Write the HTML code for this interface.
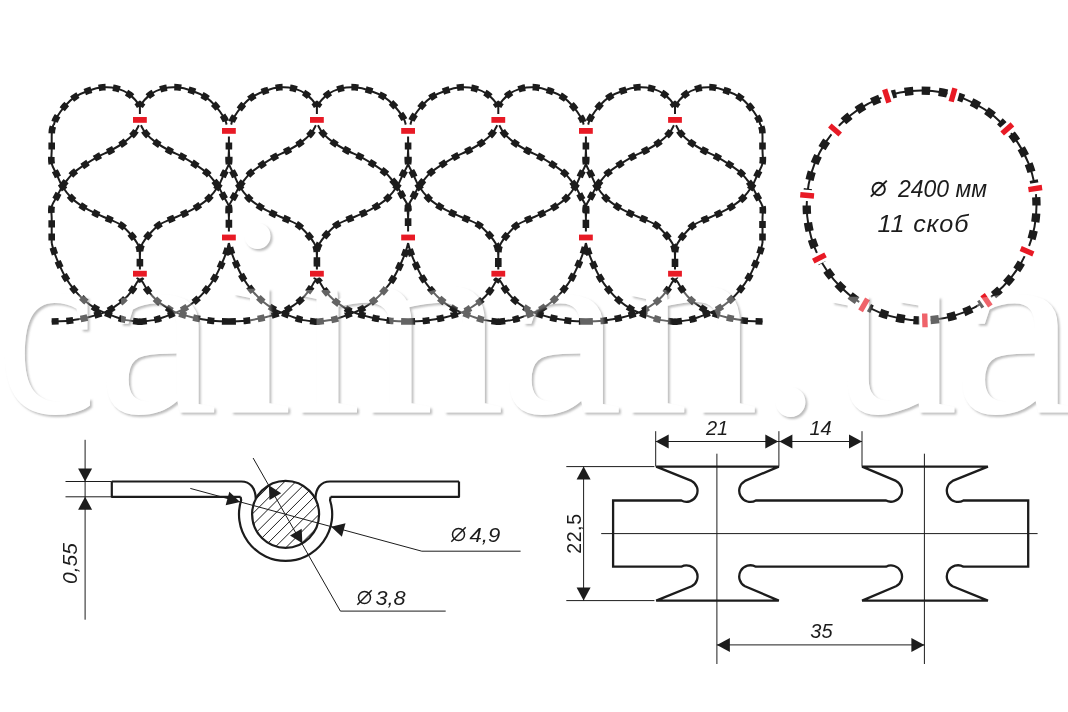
<!DOCTYPE html><html><head><meta charset="utf-8"><style>html,body{margin:0;padding:0;background:#fff;}svg{display:block;will-change:transform;}text{font-family:"Liberation Sans",sans-serif;}</style></head><body>
<svg width="1068" height="712" viewBox="0 0 1068 712">
<rect width="1068" height="712" fill="#fff"/>
<g fill="none" stroke="#1c1c1c" stroke-linejoin="round">
<path d="M139.8,106.5C138.1,103.27 133.61,97.62 129.69,94.6C125.78,91.58 120.77,89.62 116.31,88.4C111.85,87.18 107.58,86.92 102.94,87.3C98.29,87.68 93.11,89.1 88.47,90.7C83.83,92.3 78.99,94.38 75.09,96.9C71.19,99.42 68.23,102.25 65.08,105.8C61.92,109.35 58.01,115.07 56.16,118.2C54.31,121.33 54.34,123.53 53.98,124.6M140,106.5C141.72,103.27 146.25,97.62 150.2,94.6C154.15,91.58 159.2,89.62 163.7,88.4C168.2,87.18 172.52,86.92 177.2,87.3C181.88,87.68 187.12,89.1 191.8,90.7C196.48,92.3 201.37,94.38 205.3,96.9C209.23,99.42 212.22,102.25 215.4,105.8C218.58,109.35 222.53,115.07 224.4,118.2C226.27,121.33 226.23,123.53 226.6,124.6M316.8,106.5C315.1,103.27 310.62,97.62 306.72,94.6C302.81,91.58 297.82,89.62 293.37,88.4C288.92,87.18 284.65,86.92 280.02,87.3C275.39,87.68 270.21,89.1 265.58,90.7C260.95,92.3 256.12,94.38 252.23,96.9C248.35,99.42 245.4,102.25 242.25,105.8C239.1,109.35 235.2,115.07 233.35,118.2C231.5,121.33 231.54,123.53 231.17,124.6M317,106.5C318.76,103.27 323.41,97.62 327.45,94.6C331.5,91.58 336.68,89.62 341.29,88.4C345.9,87.18 350.32,86.92 355.12,87.3C359.92,87.68 365.28,89.1 370.08,90.7C374.88,92.3 379.89,94.38 383.92,96.9C387.95,99.42 391,102.25 394.27,105.8C397.53,109.35 401.58,115.07 403.49,118.2C405.4,121.33 405.37,123.53 405.74,124.6M498.2,106.5C496.46,103.27 491.86,97.62 487.86,94.6C483.86,91.58 478.74,89.62 474.18,88.4C469.62,87.18 465.24,86.92 460.5,87.3C455.75,87.68 450.45,89.1 445.7,90.7C440.95,92.3 436,94.38 432.02,96.9C428.03,99.42 425.01,102.25 421.78,105.8C418.56,109.35 414.55,115.07 412.66,118.2C410.77,121.33 410.8,123.53 410.43,124.6M498.4,106.5C500.09,103.27 504.55,97.62 508.44,94.6C512.33,91.58 517.3,89.62 521.73,88.4C526.15,87.18 530.4,86.92 535.01,87.3C539.62,87.68 544.77,89.1 549.38,90.7C553.99,92.3 558.8,94.38 562.67,96.9C566.54,99.42 569.48,102.25 572.61,105.8C575.75,109.35 579.63,115.07 581.47,118.2C583.31,121.33 583.28,123.53 583.64,124.6M674.9,106.5C673.18,103.27 668.64,97.62 664.69,94.6C660.73,91.58 655.68,89.62 651.17,88.4C646.67,87.18 642.35,86.92 637.66,87.3C632.97,87.68 627.73,89.1 623.04,90.7C618.35,92.3 613.46,94.38 609.53,96.9C605.59,99.42 602.6,102.25 599.42,105.8C596.23,109.35 592.27,115.07 590.41,118.2C588.54,121.33 588.57,123.53 588.2,124.6M675.1,106.5C676.79,103.27 681.24,97.62 685.13,94.6C689.01,91.58 693.97,89.62 698.4,88.4C702.82,87.18 707.07,86.92 711.67,87.3C716.28,87.68 721.42,89.1 726.03,90.7C730.63,92.3 735.43,94.38 739.3,96.9C743.16,99.42 746.1,102.25 749.23,105.8C752.36,109.35 756.24,115.07 758.08,118.2C759.91,121.33 759.88,123.53 760.24,124.6M138.91,125.2C138.1,126.57 136.63,130.45 134.05,133.4C131.48,136.35 127.31,140.05 123.45,142.9C119.58,145.75 115.16,148.18 110.86,150.5C106.57,152.82 101.96,154.48 97.68,156.8C93.41,159.12 89.16,161.77 85.2,164.4C81.23,167.03 76.9,170 73.9,172.6C70.89,175.2 69.09,177.72 67.16,180C65.23,182.28 64.01,183.57 62.3,186.3C60.6,189.03 58.72,193.03 56.95,196.4C55.19,199.77 52.58,202.82 51.7,206.5C50.82,210.18 51.7,214.33 51.7,218.5C51.7,222.67 51.7,229.33 51.7,231.5M140.9,125.2C141.72,126.57 143.2,130.45 145.8,133.4C148.4,136.35 152.6,140.05 156.5,142.9C160.4,145.75 164.87,148.18 169.2,150.5C173.53,152.82 178.18,154.48 182.5,156.8C186.82,159.12 191.1,161.77 195.1,164.4C199.1,167.03 203.47,170 206.5,172.6C209.53,175.2 211.35,177.72 213.3,180C215.25,182.28 216.48,183.57 218.2,186.3C219.92,189.03 221.82,193.03 223.6,196.4C225.38,199.77 228.02,202.82 228.9,206.5C229.78,210.18 228.9,214.33 228.9,218.5C228.9,222.67 228.9,229.33 228.9,231.5M315.91,125.2C315.1,126.57 313.64,130.45 311.07,133.4C308.5,136.35 304.34,140.05 300.49,142.9C296.63,145.75 292.21,148.18 287.93,150.5C283.64,152.82 279.05,154.48 274.78,156.8C270.51,159.12 266.28,161.77 262.32,164.4C258.37,167.03 254.05,170 251.05,172.6C248.05,175.2 246.25,177.72 244.32,180C242.4,182.28 241.18,183.57 239.48,186.3C237.78,189.03 235.9,193.03 234.14,196.4C232.38,199.77 229.77,202.82 228.9,206.5C228.03,210.18 228.9,214.33 228.9,218.5C228.9,222.67 228.9,229.33 228.9,231.5M317.92,125.2C318.76,126.57 320.28,130.45 322.95,133.4C325.61,136.35 329.91,140.05 333.91,142.9C337.91,145.75 342.48,148.18 346.92,150.5C351.36,152.82 356.13,154.48 360.55,156.8C364.98,159.12 369.37,161.77 373.46,164.4C377.56,167.03 382.04,170 385.15,172.6C388.25,175.2 390.12,177.72 392.11,180C394.11,182.28 395.38,183.57 397.14,186.3C398.89,189.03 400.84,193.03 402.67,196.4C404.5,199.77 407.19,202.82 408.1,206.5C409.01,210.18 408.1,214.33 408.1,218.5C408.1,222.67 408.1,229.33 408.1,231.5M497.29,125.2C496.46,126.57 494.96,130.45 492.32,133.4C489.69,136.35 485.43,140.05 481.48,142.9C477.52,145.75 473,148.18 468.6,150.5C464.21,152.82 459.5,154.48 455.13,156.8C450.75,159.12 446.41,161.77 442.36,164.4C438.3,167.03 433.88,170 430.8,172.6C427.73,175.2 425.89,177.72 423.91,180C421.93,182.28 420.68,183.57 418.94,186.3C417.2,189.03 415.28,193.03 413.47,196.4C411.66,199.77 409,202.82 408.1,206.5C407.2,210.18 408.1,214.33 408.1,218.5C408.1,222.67 408.1,229.33 408.1,231.5M499.28,125.2C500.09,126.57 501.55,130.45 504.11,133.4C506.67,136.35 510.8,140.05 514.64,142.9C518.48,145.75 522.87,148.18 527.14,150.5C531.4,152.82 535.98,154.48 540.23,156.8C544.48,159.12 548.69,161.77 552.63,164.4C556.57,167.03 560.87,170 563.85,172.6C566.84,175.2 568.63,177.72 570.55,180C572.46,182.28 573.68,183.57 575.37,186.3C577.06,189.03 578.93,193.03 580.68,196.4C582.44,199.77 585.03,202.82 585.9,206.5C586.77,210.18 585.9,214.33 585.9,218.5C585.9,222.67 585.9,229.33 585.9,231.5M674,125.2C673.18,126.57 671.7,130.45 669.09,133.4C666.49,136.35 662.29,140.05 658.38,142.9C654.48,145.75 650.01,148.18 645.67,150.5C641.33,152.82 636.67,154.48 632.35,156.8C628.03,159.12 623.74,161.77 619.74,164.4C615.73,167.03 611.36,170 608.33,172.6C605.29,175.2 603.47,177.72 601.52,180C599.57,182.28 598.33,183.57 596.61,186.3C594.89,189.03 592.99,193.03 591.21,196.4C589.42,199.77 586.78,202.82 585.9,206.5C585.02,210.18 585.9,214.33 585.9,218.5C585.9,222.67 585.9,229.33 585.9,231.5M675.98,125.2C676.79,126.57 678.24,130.45 680.8,133.4C683.36,136.35 687.49,140.05 691.32,142.9C695.15,145.75 699.55,148.18 703.81,150.5C708.07,152.82 712.64,154.48 716.88,156.8C721.13,159.12 725.34,161.77 729.27,164.4C733.2,167.03 737.5,170 740.48,172.6C743.46,175.2 745.25,177.72 747.16,180C749.08,182.28 750.29,183.57 751.98,186.3C753.67,189.03 755.54,193.03 757.29,196.4C759.04,199.77 761.63,202.82 762.5,206.5C763.37,210.18 762.5,214.33 762.5,218.5C762.5,222.67 762.5,229.33 762.5,231.5M51.7,136.5C51.7,138.75 51.7,145.5 51.7,150C51.7,154.5 50.82,159.35 51.7,163.5C52.58,167.65 55.19,171.1 56.95,174.9C58.72,178.7 59.84,182.4 62.3,186.3C64.76,190.2 68.28,194.9 71.72,198.3C75.15,201.7 78.85,204.13 82.92,206.7C86.98,209.27 91.69,211.6 96.1,213.7C100.51,215.8 105.08,217.32 109.38,219.3C113.67,221.28 118.16,222.9 121.86,225.6C125.56,228.3 129.02,232.57 131.58,235.5C134.14,238.43 135.9,240.87 137.22,243.2C138.55,245.53 139.06,246.7 139.5,249.5C139.95,252.3 139.83,256.67 139.9,260C139.97,263.33 139.9,267.92 139.9,269.5M228.9,136.5C228.9,138.75 228.9,145.5 228.9,150C228.9,154.5 229.78,159.35 228.9,163.5C228.02,167.65 225.38,171.1 223.6,174.9C221.82,178.7 220.68,182.4 218.2,186.3C215.72,190.2 212.17,194.9 208.7,198.3C205.23,201.7 201.5,204.13 197.4,206.7C193.3,209.27 188.55,211.6 184.1,213.7C179.65,215.8 175.03,217.32 170.7,219.3C166.37,221.28 161.83,222.9 158.1,225.6C154.37,228.3 150.88,232.57 148.3,235.5C145.72,238.43 143.93,240.87 142.6,243.2C141.27,245.53 140.75,246.7 140.3,249.5C139.85,252.3 139.97,256.67 139.9,260C139.83,263.33 139.9,267.92 139.9,269.5M228.9,136.5C228.9,138.75 228.9,145.5 228.9,150C228.9,154.5 228.03,159.35 228.9,163.5C229.77,167.65 232.38,171.1 234.14,174.9C235.9,178.7 237.02,182.4 239.48,186.3C241.94,190.2 245.45,194.9 248.87,198.3C252.3,201.7 255.99,204.13 260.05,206.7C264.1,209.27 268.8,211.6 273.2,213.7C277.6,215.8 282.16,217.32 286.45,219.3C290.73,221.28 295.21,222.9 298.9,225.6C302.6,228.3 306.04,232.57 308.59,235.5C311.15,238.43 312.91,240.87 314.23,243.2C315.55,245.53 316.06,246.7 316.5,249.5C316.95,252.3 316.83,256.67 316.9,260C316.97,263.33 316.9,267.92 316.9,269.5M408.1,136.5C408.1,138.75 408.1,145.5 408.1,150C408.1,154.5 409.01,159.35 408.1,163.5C407.19,167.65 404.5,171.1 402.67,174.9C400.84,178.7 399.68,182.4 397.14,186.3C394.59,190.2 390.95,194.9 387.4,198.3C383.85,201.7 380.02,204.13 375.82,206.7C371.62,209.27 366.75,211.6 362.19,213.7C357.63,215.8 352.9,217.32 348.46,219.3C344.02,221.28 339.38,222.9 335.55,225.6C331.72,228.3 328.15,232.57 325.51,235.5C322.86,238.43 321.03,240.87 319.67,243.2C318.3,245.53 317.77,246.7 317.31,249.5C316.85,252.3 316.97,256.67 316.9,260C316.83,263.33 316.9,267.92 316.9,269.5M408.1,136.5C408.1,138.75 408.1,145.5 408.1,150C408.1,154.5 407.2,159.35 408.1,163.5C409,167.65 411.66,171.1 413.47,174.9C415.28,178.7 416.43,182.4 418.94,186.3C421.46,190.2 425.06,194.9 428.57,198.3C432.09,201.7 435.87,204.13 440.02,206.7C444.18,209.27 448.99,211.6 453.5,213.7C458.01,215.8 462.69,217.32 467.08,219.3C471.48,221.28 476.07,222.9 479.85,225.6C483.64,228.3 487.17,232.57 489.79,235.5C492.4,238.43 494.21,240.87 495.56,243.2C496.91,245.53 497.44,246.7 497.89,249.5C498.35,252.3 498.23,256.67 498.3,260C498.37,263.33 498.3,267.92 498.3,269.5M585.9,136.5C585.9,138.75 585.9,145.5 585.9,150C585.9,154.5 586.77,159.35 585.9,163.5C585.03,167.65 582.44,171.1 580.68,174.9C578.93,178.7 577.81,182.4 575.37,186.3C572.92,190.2 569.43,194.9 566.02,198.3C562.61,201.7 558.93,204.13 554.9,206.7C550.86,209.27 546.18,211.6 541.8,213.7C537.42,215.8 532.88,217.32 528.62,219.3C524.35,221.28 519.89,222.9 516.21,225.6C512.54,228.3 509.11,232.57 506.57,235.5C504.03,238.43 502.27,240.87 500.96,243.2C499.65,245.53 499.14,246.7 498.69,249.5C498.25,252.3 498.37,256.67 498.3,260C498.23,263.33 498.3,267.92 498.3,269.5M585.9,136.5C585.9,138.75 585.9,145.5 585.9,150C585.9,154.5 585.02,159.35 585.9,163.5C586.78,167.65 589.42,171.1 591.21,174.9C592.99,178.7 594.13,182.4 596.61,186.3C599.1,190.2 602.65,194.9 606.12,198.3C609.59,201.7 613.33,204.13 617.44,206.7C621.54,209.27 626.3,211.6 630.75,213.7C635.21,215.8 639.83,217.32 644.17,219.3C648.5,221.28 653.04,222.9 656.78,225.6C660.52,228.3 664,232.57 666.59,235.5C669.18,238.43 670.96,240.87 672.3,243.2C673.63,245.53 674.15,246.7 674.6,249.5C675.05,252.3 674.93,256.67 675,260C675.07,263.33 675,267.92 675,269.5M762.5,136.5C762.5,138.75 762.5,145.5 762.5,150C762.5,154.5 763.37,159.35 762.5,163.5C761.63,167.65 759.04,171.1 757.29,174.9C755.54,178.7 754.42,182.4 751.98,186.3C749.54,190.2 746.05,194.9 742.64,198.3C739.23,201.7 735.56,204.13 731.53,206.7C727.5,209.27 722.83,211.6 718.46,213.7C714.08,215.8 709.54,217.32 705.28,219.3C701.02,221.28 696.56,222.9 692.89,225.6C689.22,228.3 685.8,232.57 683.26,235.5C680.72,238.43 678.97,240.87 677.65,243.2C676.34,245.53 675.84,246.7 675.39,249.5C674.95,252.3 675.07,256.67 675,260C674.93,263.33 675,267.92 675,269.5M228.9,321.5C223.03,321.5 216.5,321.22 211.2,320.7C205.9,320.18 201.17,319.2 197.1,318.4C193.03,317.6 190.55,316.98 186.8,315.9C183.05,314.82 177.72,313.15 174.6,311.9C171.48,310.65 171.05,310.28 168.1,308.4C165.15,306.52 160.33,303.65 156.9,300.6C153.47,297.55 149.88,293.2 147.5,290.1C145.12,287 143.87,283.85 142.6,282C141.33,280.15 140.35,279.5 139.9,279M228.9,321.5C234.77,321.5 241.16,321.22 246.4,320.7C251.64,320.18 256.32,319.2 260.34,318.4C264.36,317.6 266.82,316.98 270.53,315.9C274.23,314.82 279.51,313.15 282.59,311.9C285.67,310.65 286.1,310.28 289.02,308.4C291.93,306.52 296.7,303.65 300.09,300.6C303.49,297.55 307.03,293.2 309.39,290.1C311.74,287 312.98,283.85 314.23,282C315.48,280.15 316.46,279.5 316.9,279M408.1,321.5C402.09,321.5 395.39,321.22 389.96,320.7C384.53,320.18 379.68,319.2 375.51,318.4C371.35,317.6 368.8,316.98 364.96,315.9C361.12,314.82 355.65,313.15 352.46,311.9C349.26,310.65 348.82,310.28 345.8,308.4C342.77,306.52 337.84,303.65 334.32,300.6C330.8,297.55 327.13,293.2 324.69,290.1C322.25,287 320.96,283.85 319.67,282C318.37,280.15 317.36,279.5 316.9,279M408.1,321.5C414.11,321.5 420.67,321.22 426.04,320.7C431.41,320.18 436.21,319.2 440.33,318.4C444.45,317.6 446.97,316.98 450.77,315.9C454.57,314.82 459.97,313.15 463.13,311.9C466.29,310.65 466.73,310.28 469.72,308.4C472.71,306.52 477.59,303.65 481.07,300.6C484.55,297.55 488.18,293.2 490.6,290.1C493.01,287 494.28,283.85 495.56,282C496.85,280.15 497.84,279.5 498.3,279M585.9,321.5C580.04,321.5 573.7,321.22 568.48,320.7C563.26,320.18 558.6,319.2 554.6,318.4C550.6,317.6 548.15,316.98 544.46,315.9C540.77,314.82 535.52,313.15 532.45,311.9C529.39,310.65 528.96,310.28 526.06,308.4C523.15,306.52 518.41,303.65 515.03,300.6C511.65,297.55 508.13,293.2 505.78,290.1C503.43,287 502.2,283.85 500.96,282C499.71,280.15 498.74,279.5 498.3,279M585.9,321.5C591.76,321.5 598.31,321.22 603.62,320.7C608.93,320.18 613.66,319.2 617.74,318.4C621.81,317.6 624.29,316.98 628.05,315.9C631.8,314.82 637.14,313.15 640.26,311.9C643.38,310.65 643.82,310.28 646.77,308.4C649.72,306.52 654.54,303.65 657.98,300.6C661.42,297.55 665.01,293.2 667.39,290.1C669.78,287 671.03,283.85 672.3,282C673.57,280.15 674.55,279.5 675,279M139.9,321.6C138.94,321.6 139.67,321.83 137.03,321.5C134.38,321.17 128.22,320.58 124.04,319.6C119.87,318.62 115.04,316.7 111.95,315.6C108.86,314.5 108.14,314.13 105.51,313C102.89,311.87 99.6,310.82 96.2,308.8C92.79,306.78 88.65,303.93 85.1,300.9C81.55,297.87 78.14,294.5 74.89,290.6C71.64,286.7 68.42,282.35 65.57,277.5C62.73,272.65 59.84,266.05 57.84,261.5C55.85,256.95 54.61,253.28 53.58,250.2C52.56,247.12 52.01,244.2 51.7,243M139.9,321.6C140.86,321.6 140.13,321.83 142.8,321.5C145.47,321.17 151.68,320.58 155.9,319.6C160.12,318.62 164.98,316.7 168.1,315.6C171.22,314.5 171.95,314.13 174.6,313C177.25,311.87 180.57,310.82 184,308.8C187.43,306.78 191.62,303.93 195.2,300.9C198.78,297.87 202.22,294.5 205.5,290.6C208.78,286.7 212.03,282.35 214.9,277.5C217.77,272.65 220.68,266.05 222.7,261.5C224.72,256.95 225.97,253.28 227,250.2C228.03,247.12 228.58,244.2 228.9,243M316.9,321.6C315.93,321.6 316.67,321.83 314.03,321.5C311.4,321.17 305.25,320.58 301.08,319.6C296.91,318.62 292.1,316.7 289.02,315.6C285.94,314.5 285.21,314.13 282.59,313C279.97,311.87 276.69,310.82 273.3,308.8C269.9,306.78 265.76,303.93 262.22,300.9C258.68,297.87 255.28,294.5 252.04,290.6C248.79,286.7 245.58,282.35 242.74,277.5C239.91,272.65 237.02,266.05 235.03,261.5C233.04,256.95 231.8,253.28 230.78,250.2C229.76,247.12 229.21,244.2 228.9,243M316.9,321.6C317.87,321.6 317.14,321.83 319.87,321.5C322.6,321.17 328.97,320.58 333.3,319.6C337.62,318.62 342.6,316.7 345.8,315.6C348.99,314.5 349.74,314.13 352.46,313C355.17,311.87 358.57,310.82 362.09,308.8C365.61,306.78 369.9,303.93 373.57,300.9C377.24,297.87 380.76,294.5 384.12,290.6C387.49,286.7 390.82,282.35 393.75,277.5C396.69,272.65 399.68,266.05 401.75,261.5C403.81,256.95 405.09,253.28 406.15,250.2C407.21,247.12 407.78,244.2 408.1,243M498.3,321.6C497.33,321.6 498.06,321.83 495.36,321.5C492.66,321.17 486.36,320.58 482.08,319.6C477.81,318.62 472.88,316.7 469.72,315.6C466.56,314.5 465.82,314.13 463.13,313C460.45,311.87 457.09,310.82 453.61,308.8C450.13,306.78 445.89,303.93 442.25,300.9C438.62,297.87 435.14,294.5 431.82,290.6C428.49,286.7 425.19,282.35 422.29,277.5C419.38,272.65 416.43,266.05 414.38,261.5C412.34,256.95 411.07,253.28 410.03,250.2C408.98,247.12 408.42,244.2 408.1,243M498.3,321.6C499.27,321.6 498.53,321.83 501.15,321.5C503.78,321.17 509.9,320.58 514.05,319.6C518.2,318.62 522.99,316.7 526.06,315.6C529.12,314.5 529.85,314.13 532.45,313C535.06,311.87 538.33,310.82 541.71,308.8C545.09,306.78 549.2,303.93 552.73,300.9C556.26,297.87 559.64,294.5 562.87,290.6C566.1,286.7 569.3,282.35 572.12,277.5C574.94,272.65 577.81,266.05 579.8,261.5C581.78,256.95 583.01,253.28 584.03,250.2C585.05,247.12 585.59,244.2 585.9,243M675,321.6C674.04,321.6 674.77,321.83 672.1,321.5C669.43,321.17 663.2,320.58 658.98,319.6C654.76,318.62 649.89,316.7 646.77,315.6C643.65,314.5 642.91,314.13 640.26,313C637.61,311.87 634.29,310.82 630.85,308.8C627.41,306.78 623.23,303.93 619.64,300.9C616.05,297.87 612.61,294.5 609.33,290.6C606.04,286.7 602.79,282.35 599.92,277.5C597.05,272.65 594.13,266.05 592.11,261.5C590.09,256.95 588.84,253.28 587.8,250.2C586.77,247.12 586.22,244.2 585.9,243M675,321.6C675.96,321.6 675.23,321.83 677.85,321.5C680.47,321.17 686.58,320.58 690.73,319.6C694.88,318.62 699.66,316.7 702.72,315.6C705.79,314.5 706.51,314.13 709.12,313C711.72,311.87 714.98,310.82 718.36,308.8C721.73,306.78 725.85,303.93 729.37,300.9C732.89,297.87 736.27,294.5 739.49,290.6C742.72,286.7 745.92,282.35 748.74,277.5C751.55,272.65 754.42,266.05 756.4,261.5C758.39,256.95 759.62,253.28 760.63,250.2C761.65,247.12 762.19,244.2 762.5,243M51.7,321.5C54.62,321.37 63.99,321.22 69.24,320.7C74.49,320.18 79.18,319.2 83.21,318.4C87.24,317.6 89.71,316.98 93.42,315.9C97.14,314.82 102.42,313.15 105.51,311.9C108.6,310.65 109.03,310.28 111.95,308.4C114.88,306.52 119.65,303.65 123.05,300.6C126.46,297.55 130.01,293.2 132.37,290.1C134.73,287 135.97,283.85 137.22,282C138.48,280.15 139.45,279.5 139.9,279M762.5,321.5C759.6,321.37 750.31,321.22 745.1,320.7C739.89,320.18 735.23,319.2 731.24,318.4C727.24,317.6 724.8,316.98 721.11,315.9C717.42,314.82 712.18,313.15 709.12,311.9C706.05,310.65 705.62,310.28 702.72,308.4C699.82,306.52 695.09,303.65 691.71,300.6C688.34,297.55 684.82,293.2 682.47,290.1C680.13,287 678.9,283.85 677.65,282C676.41,280.15 675.44,279.5 675,279M53.5,124.6C53.25,125.5 52.3,128.02 52,130C51.7,131.98 51.75,135.42 51.7,136.5M51.7,231.5C51.7,232.42 51.7,235.08 51.7,237C51.7,238.92 51.7,242 51.7,243M760.7,124.6C760.95,125.5 761.9,128.02 762.2,130C762.5,131.98 762.45,135.42 762.5,136.5M762.5,231.5C762.5,232.42 762.5,235.08 762.5,237C762.5,238.92 762.5,242 762.5,243M139.9,114 L139.9,106.5M139.9,114 L139.9,106.5M316.9,114 L316.9,106.5M316.9,114 L316.9,106.5M498.3,114 L498.3,106.5M498.3,114 L498.3,106.5M675,114 L675,106.5M675,114 L675,106.5" stroke-width="2"/>
<path d="M139.8,106.5C138.1,103.27 133.61,97.62 129.69,94.6C125.78,91.58 120.77,89.62 116.31,88.4C111.85,87.18 107.58,86.92 102.94,87.3C98.29,87.68 93.11,89.1 88.47,90.7C83.83,92.3 78.99,94.38 75.09,96.9C71.19,99.42 68.23,102.25 65.08,105.8C61.92,109.35 58.01,115.07 56.16,118.2C54.31,121.33 54.34,123.53 53.98,124.6M140,106.5C141.72,103.27 146.25,97.62 150.2,94.6C154.15,91.58 159.2,89.62 163.7,88.4C168.2,87.18 172.52,86.92 177.2,87.3C181.88,87.68 187.12,89.1 191.8,90.7C196.48,92.3 201.37,94.38 205.3,96.9C209.23,99.42 212.22,102.25 215.4,105.8C218.58,109.35 222.53,115.07 224.4,118.2C226.27,121.33 226.23,123.53 226.6,124.6M316.8,106.5C315.1,103.27 310.62,97.62 306.72,94.6C302.81,91.58 297.82,89.62 293.37,88.4C288.92,87.18 284.65,86.92 280.02,87.3C275.39,87.68 270.21,89.1 265.58,90.7C260.95,92.3 256.12,94.38 252.23,96.9C248.35,99.42 245.4,102.25 242.25,105.8C239.1,109.35 235.2,115.07 233.35,118.2C231.5,121.33 231.54,123.53 231.17,124.6M317,106.5C318.76,103.27 323.41,97.62 327.45,94.6C331.5,91.58 336.68,89.62 341.29,88.4C345.9,87.18 350.32,86.92 355.12,87.3C359.92,87.68 365.28,89.1 370.08,90.7C374.88,92.3 379.89,94.38 383.92,96.9C387.95,99.42 391,102.25 394.27,105.8C397.53,109.35 401.58,115.07 403.49,118.2C405.4,121.33 405.37,123.53 405.74,124.6M498.2,106.5C496.46,103.27 491.86,97.62 487.86,94.6C483.86,91.58 478.74,89.62 474.18,88.4C469.62,87.18 465.24,86.92 460.5,87.3C455.75,87.68 450.45,89.1 445.7,90.7C440.95,92.3 436,94.38 432.02,96.9C428.03,99.42 425.01,102.25 421.78,105.8C418.56,109.35 414.55,115.07 412.66,118.2C410.77,121.33 410.8,123.53 410.43,124.6M498.4,106.5C500.09,103.27 504.55,97.62 508.44,94.6C512.33,91.58 517.3,89.62 521.73,88.4C526.15,87.18 530.4,86.92 535.01,87.3C539.62,87.68 544.77,89.1 549.38,90.7C553.99,92.3 558.8,94.38 562.67,96.9C566.54,99.42 569.48,102.25 572.61,105.8C575.75,109.35 579.63,115.07 581.47,118.2C583.31,121.33 583.28,123.53 583.64,124.6M674.9,106.5C673.18,103.27 668.64,97.62 664.69,94.6C660.73,91.58 655.68,89.62 651.17,88.4C646.67,87.18 642.35,86.92 637.66,87.3C632.97,87.68 627.73,89.1 623.04,90.7C618.35,92.3 613.46,94.38 609.53,96.9C605.59,99.42 602.6,102.25 599.42,105.8C596.23,109.35 592.27,115.07 590.41,118.2C588.54,121.33 588.57,123.53 588.2,124.6M675.1,106.5C676.79,103.27 681.24,97.62 685.13,94.6C689.01,91.58 693.97,89.62 698.4,88.4C702.82,87.18 707.07,86.92 711.67,87.3C716.28,87.68 721.42,89.1 726.03,90.7C730.63,92.3 735.43,94.38 739.3,96.9C743.16,99.42 746.1,102.25 749.23,105.8C752.36,109.35 756.24,115.07 758.08,118.2C759.91,121.33 759.88,123.53 760.24,124.6" stroke-width="6.6" stroke-dasharray="7 7.45" stroke-dashoffset="2"/>
<path d="M138.91,125.2C138.1,126.57 136.63,130.45 134.05,133.4C131.48,136.35 127.31,140.05 123.45,142.9C119.58,145.75 115.16,148.18 110.86,150.5C106.57,152.82 101.96,154.48 97.68,156.8C93.41,159.12 89.16,161.77 85.2,164.4C81.23,167.03 76.9,170 73.9,172.6C70.89,175.2 69.09,177.72 67.16,180C65.23,182.28 64.01,183.57 62.3,186.3C60.6,189.03 58.72,193.03 56.95,196.4C55.19,199.77 52.58,202.82 51.7,206.5C50.82,210.18 51.7,214.33 51.7,218.5C51.7,222.67 51.7,229.33 51.7,231.5M140.9,125.2C141.72,126.57 143.2,130.45 145.8,133.4C148.4,136.35 152.6,140.05 156.5,142.9C160.4,145.75 164.87,148.18 169.2,150.5C173.53,152.82 178.18,154.48 182.5,156.8C186.82,159.12 191.1,161.77 195.1,164.4C199.1,167.03 203.47,170 206.5,172.6C209.53,175.2 211.35,177.72 213.3,180C215.25,182.28 216.48,183.57 218.2,186.3C219.92,189.03 221.82,193.03 223.6,196.4C225.38,199.77 228.02,202.82 228.9,206.5C229.78,210.18 228.9,214.33 228.9,218.5C228.9,222.67 228.9,229.33 228.9,231.5M315.91,125.2C315.1,126.57 313.64,130.45 311.07,133.4C308.5,136.35 304.34,140.05 300.49,142.9C296.63,145.75 292.21,148.18 287.93,150.5C283.64,152.82 279.05,154.48 274.78,156.8C270.51,159.12 266.28,161.77 262.32,164.4C258.37,167.03 254.05,170 251.05,172.6C248.05,175.2 246.25,177.72 244.32,180C242.4,182.28 241.18,183.57 239.48,186.3C237.78,189.03 235.9,193.03 234.14,196.4C232.38,199.77 229.77,202.82 228.9,206.5C228.03,210.18 228.9,214.33 228.9,218.5C228.9,222.67 228.9,229.33 228.9,231.5M317.92,125.2C318.76,126.57 320.28,130.45 322.95,133.4C325.61,136.35 329.91,140.05 333.91,142.9C337.91,145.75 342.48,148.18 346.92,150.5C351.36,152.82 356.13,154.48 360.55,156.8C364.98,159.12 369.37,161.77 373.46,164.4C377.56,167.03 382.04,170 385.15,172.6C388.25,175.2 390.12,177.72 392.11,180C394.11,182.28 395.38,183.57 397.14,186.3C398.89,189.03 400.84,193.03 402.67,196.4C404.5,199.77 407.19,202.82 408.1,206.5C409.01,210.18 408.1,214.33 408.1,218.5C408.1,222.67 408.1,229.33 408.1,231.5M497.29,125.2C496.46,126.57 494.96,130.45 492.32,133.4C489.69,136.35 485.43,140.05 481.48,142.9C477.52,145.75 473,148.18 468.6,150.5C464.21,152.82 459.5,154.48 455.13,156.8C450.75,159.12 446.41,161.77 442.36,164.4C438.3,167.03 433.88,170 430.8,172.6C427.73,175.2 425.89,177.72 423.91,180C421.93,182.28 420.68,183.57 418.94,186.3C417.2,189.03 415.28,193.03 413.47,196.4C411.66,199.77 409,202.82 408.1,206.5C407.2,210.18 408.1,214.33 408.1,218.5C408.1,222.67 408.1,229.33 408.1,231.5M499.28,125.2C500.09,126.57 501.55,130.45 504.11,133.4C506.67,136.35 510.8,140.05 514.64,142.9C518.48,145.75 522.87,148.18 527.14,150.5C531.4,152.82 535.98,154.48 540.23,156.8C544.48,159.12 548.69,161.77 552.63,164.4C556.57,167.03 560.87,170 563.85,172.6C566.84,175.2 568.63,177.72 570.55,180C572.46,182.28 573.68,183.57 575.37,186.3C577.06,189.03 578.93,193.03 580.68,196.4C582.44,199.77 585.03,202.82 585.9,206.5C586.77,210.18 585.9,214.33 585.9,218.5C585.9,222.67 585.9,229.33 585.9,231.5M674,125.2C673.18,126.57 671.7,130.45 669.09,133.4C666.49,136.35 662.29,140.05 658.38,142.9C654.48,145.75 650.01,148.18 645.67,150.5C641.33,152.82 636.67,154.48 632.35,156.8C628.03,159.12 623.74,161.77 619.74,164.4C615.73,167.03 611.36,170 608.33,172.6C605.29,175.2 603.47,177.72 601.52,180C599.57,182.28 598.33,183.57 596.61,186.3C594.89,189.03 592.99,193.03 591.21,196.4C589.42,199.77 586.78,202.82 585.9,206.5C585.02,210.18 585.9,214.33 585.9,218.5C585.9,222.67 585.9,229.33 585.9,231.5M675.98,125.2C676.79,126.57 678.24,130.45 680.8,133.4C683.36,136.35 687.49,140.05 691.32,142.9C695.15,145.75 699.55,148.18 703.81,150.5C708.07,152.82 712.64,154.48 716.88,156.8C721.13,159.12 725.34,161.77 729.27,164.4C733.2,167.03 737.5,170 740.48,172.6C743.46,175.2 745.25,177.72 747.16,180C749.08,182.28 750.29,183.57 751.98,186.3C753.67,189.03 755.54,193.03 757.29,196.4C759.04,199.77 761.63,202.82 762.5,206.5C763.37,210.18 762.5,214.33 762.5,218.5C762.5,222.67 762.5,229.33 762.5,231.5" stroke-width="6.6" stroke-dasharray="7 7.45" stroke-dashoffset="-6.5"/>
<path d="M51.7,136.5C51.7,138.75 51.7,145.5 51.7,150C51.7,154.5 50.82,159.35 51.7,163.5C52.58,167.65 55.19,171.1 56.95,174.9C58.72,178.7 59.84,182.4 62.3,186.3C64.76,190.2 68.28,194.9 71.72,198.3C75.15,201.7 78.85,204.13 82.92,206.7C86.98,209.27 91.69,211.6 96.1,213.7C100.51,215.8 105.08,217.32 109.38,219.3C113.67,221.28 118.16,222.9 121.86,225.6C125.56,228.3 129.02,232.57 131.58,235.5C134.14,238.43 135.9,240.87 137.22,243.2C138.55,245.53 139.06,246.7 139.5,249.5C139.95,252.3 139.83,256.67 139.9,260C139.97,263.33 139.9,267.92 139.9,269.5M228.9,136.5C228.9,138.75 228.9,145.5 228.9,150C228.9,154.5 229.78,159.35 228.9,163.5C228.02,167.65 225.38,171.1 223.6,174.9C221.82,178.7 220.68,182.4 218.2,186.3C215.72,190.2 212.17,194.9 208.7,198.3C205.23,201.7 201.5,204.13 197.4,206.7C193.3,209.27 188.55,211.6 184.1,213.7C179.65,215.8 175.03,217.32 170.7,219.3C166.37,221.28 161.83,222.9 158.1,225.6C154.37,228.3 150.88,232.57 148.3,235.5C145.72,238.43 143.93,240.87 142.6,243.2C141.27,245.53 140.75,246.7 140.3,249.5C139.85,252.3 139.97,256.67 139.9,260C139.83,263.33 139.9,267.92 139.9,269.5M228.9,136.5C228.9,138.75 228.9,145.5 228.9,150C228.9,154.5 228.03,159.35 228.9,163.5C229.77,167.65 232.38,171.1 234.14,174.9C235.9,178.7 237.02,182.4 239.48,186.3C241.94,190.2 245.45,194.9 248.87,198.3C252.3,201.7 255.99,204.13 260.05,206.7C264.1,209.27 268.8,211.6 273.2,213.7C277.6,215.8 282.16,217.32 286.45,219.3C290.73,221.28 295.21,222.9 298.9,225.6C302.6,228.3 306.04,232.57 308.59,235.5C311.15,238.43 312.91,240.87 314.23,243.2C315.55,245.53 316.06,246.7 316.5,249.5C316.95,252.3 316.83,256.67 316.9,260C316.97,263.33 316.9,267.92 316.9,269.5M408.1,136.5C408.1,138.75 408.1,145.5 408.1,150C408.1,154.5 409.01,159.35 408.1,163.5C407.19,167.65 404.5,171.1 402.67,174.9C400.84,178.7 399.68,182.4 397.14,186.3C394.59,190.2 390.95,194.9 387.4,198.3C383.85,201.7 380.02,204.13 375.82,206.7C371.62,209.27 366.75,211.6 362.19,213.7C357.63,215.8 352.9,217.32 348.46,219.3C344.02,221.28 339.38,222.9 335.55,225.6C331.72,228.3 328.15,232.57 325.51,235.5C322.86,238.43 321.03,240.87 319.67,243.2C318.3,245.53 317.77,246.7 317.31,249.5C316.85,252.3 316.97,256.67 316.9,260C316.83,263.33 316.9,267.92 316.9,269.5M408.1,136.5C408.1,138.75 408.1,145.5 408.1,150C408.1,154.5 407.2,159.35 408.1,163.5C409,167.65 411.66,171.1 413.47,174.9C415.28,178.7 416.43,182.4 418.94,186.3C421.46,190.2 425.06,194.9 428.57,198.3C432.09,201.7 435.87,204.13 440.02,206.7C444.18,209.27 448.99,211.6 453.5,213.7C458.01,215.8 462.69,217.32 467.08,219.3C471.48,221.28 476.07,222.9 479.85,225.6C483.64,228.3 487.17,232.57 489.79,235.5C492.4,238.43 494.21,240.87 495.56,243.2C496.91,245.53 497.44,246.7 497.89,249.5C498.35,252.3 498.23,256.67 498.3,260C498.37,263.33 498.3,267.92 498.3,269.5M585.9,136.5C585.9,138.75 585.9,145.5 585.9,150C585.9,154.5 586.77,159.35 585.9,163.5C585.03,167.65 582.44,171.1 580.68,174.9C578.93,178.7 577.81,182.4 575.37,186.3C572.92,190.2 569.43,194.9 566.02,198.3C562.61,201.7 558.93,204.13 554.9,206.7C550.86,209.27 546.18,211.6 541.8,213.7C537.42,215.8 532.88,217.32 528.62,219.3C524.35,221.28 519.89,222.9 516.21,225.6C512.54,228.3 509.11,232.57 506.57,235.5C504.03,238.43 502.27,240.87 500.96,243.2C499.65,245.53 499.14,246.7 498.69,249.5C498.25,252.3 498.37,256.67 498.3,260C498.23,263.33 498.3,267.92 498.3,269.5M585.9,136.5C585.9,138.75 585.9,145.5 585.9,150C585.9,154.5 585.02,159.35 585.9,163.5C586.78,167.65 589.42,171.1 591.21,174.9C592.99,178.7 594.13,182.4 596.61,186.3C599.1,190.2 602.65,194.9 606.12,198.3C609.59,201.7 613.33,204.13 617.44,206.7C621.54,209.27 626.3,211.6 630.75,213.7C635.21,215.8 639.83,217.32 644.17,219.3C648.5,221.28 653.04,222.9 656.78,225.6C660.52,228.3 664,232.57 666.59,235.5C669.18,238.43 670.96,240.87 672.3,243.2C673.63,245.53 674.15,246.7 674.6,249.5C675.05,252.3 674.93,256.67 675,260C675.07,263.33 675,267.92 675,269.5M762.5,136.5C762.5,138.75 762.5,145.5 762.5,150C762.5,154.5 763.37,159.35 762.5,163.5C761.63,167.65 759.04,171.1 757.29,174.9C755.54,178.7 754.42,182.4 751.98,186.3C749.54,190.2 746.05,194.9 742.64,198.3C739.23,201.7 735.56,204.13 731.53,206.7C727.5,209.27 722.83,211.6 718.46,213.7C714.08,215.8 709.54,217.32 705.28,219.3C701.02,221.28 696.56,222.9 692.89,225.6C689.22,228.3 685.8,232.57 683.26,235.5C680.72,238.43 678.97,240.87 677.65,243.2C676.34,245.53 675.84,246.7 675.39,249.5C674.95,252.3 675.07,256.67 675,260C674.93,263.33 675,267.92 675,269.5" stroke-width="6.6" stroke-dasharray="7 7.45" stroke-dashoffset="-6"/>
<path d="M228.9,321.5C223.03,321.5 216.5,321.22 211.2,320.7C205.9,320.18 201.17,319.2 197.1,318.4C193.03,317.6 190.55,316.98 186.8,315.9C183.05,314.82 177.72,313.15 174.6,311.9C171.48,310.65 171.05,310.28 168.1,308.4C165.15,306.52 160.33,303.65 156.9,300.6C153.47,297.55 149.88,293.2 147.5,290.1C145.12,287 143.87,283.85 142.6,282C141.33,280.15 140.35,279.5 139.9,279M228.9,321.5C234.77,321.5 241.16,321.22 246.4,320.7C251.64,320.18 256.32,319.2 260.34,318.4C264.36,317.6 266.82,316.98 270.53,315.9C274.23,314.82 279.51,313.15 282.59,311.9C285.67,310.65 286.1,310.28 289.02,308.4C291.93,306.52 296.7,303.65 300.09,300.6C303.49,297.55 307.03,293.2 309.39,290.1C311.74,287 312.98,283.85 314.23,282C315.48,280.15 316.46,279.5 316.9,279M408.1,321.5C402.09,321.5 395.39,321.22 389.96,320.7C384.53,320.18 379.68,319.2 375.51,318.4C371.35,317.6 368.8,316.98 364.96,315.9C361.12,314.82 355.65,313.15 352.46,311.9C349.26,310.65 348.82,310.28 345.8,308.4C342.77,306.52 337.84,303.65 334.32,300.6C330.8,297.55 327.13,293.2 324.69,290.1C322.25,287 320.96,283.85 319.67,282C318.37,280.15 317.36,279.5 316.9,279M408.1,321.5C414.11,321.5 420.67,321.22 426.04,320.7C431.41,320.18 436.21,319.2 440.33,318.4C444.45,317.6 446.97,316.98 450.77,315.9C454.57,314.82 459.97,313.15 463.13,311.9C466.29,310.65 466.73,310.28 469.72,308.4C472.71,306.52 477.59,303.65 481.07,300.6C484.55,297.55 488.18,293.2 490.6,290.1C493.01,287 494.28,283.85 495.56,282C496.85,280.15 497.84,279.5 498.3,279M585.9,321.5C580.04,321.5 573.7,321.22 568.48,320.7C563.26,320.18 558.6,319.2 554.6,318.4C550.6,317.6 548.15,316.98 544.46,315.9C540.77,314.82 535.52,313.15 532.45,311.9C529.39,310.65 528.96,310.28 526.06,308.4C523.15,306.52 518.41,303.65 515.03,300.6C511.65,297.55 508.13,293.2 505.78,290.1C503.43,287 502.2,283.85 500.96,282C499.71,280.15 498.74,279.5 498.3,279M585.9,321.5C591.76,321.5 598.31,321.22 603.62,320.7C608.93,320.18 613.66,319.2 617.74,318.4C621.81,317.6 624.29,316.98 628.05,315.9C631.8,314.82 637.14,313.15 640.26,311.9C643.38,310.65 643.82,310.28 646.77,308.4C649.72,306.52 654.54,303.65 657.98,300.6C661.42,297.55 665.01,293.2 667.39,290.1C669.78,287 671.03,283.85 672.3,282C673.57,280.15 674.55,279.5 675,279M139.9,321.6C138.94,321.6 139.67,321.83 137.03,321.5C134.38,321.17 128.22,320.58 124.04,319.6C119.87,318.62 115.04,316.7 111.95,315.6C108.86,314.5 108.14,314.13 105.51,313C102.89,311.87 99.6,310.82 96.2,308.8C92.79,306.78 88.65,303.93 85.1,300.9C81.55,297.87 78.14,294.5 74.89,290.6C71.64,286.7 68.42,282.35 65.57,277.5C62.73,272.65 59.84,266.05 57.84,261.5C55.85,256.95 54.61,253.28 53.58,250.2C52.56,247.12 52.01,244.2 51.7,243M139.9,321.6C140.86,321.6 140.13,321.83 142.8,321.5C145.47,321.17 151.68,320.58 155.9,319.6C160.12,318.62 164.98,316.7 168.1,315.6C171.22,314.5 171.95,314.13 174.6,313C177.25,311.87 180.57,310.82 184,308.8C187.43,306.78 191.62,303.93 195.2,300.9C198.78,297.87 202.22,294.5 205.5,290.6C208.78,286.7 212.03,282.35 214.9,277.5C217.77,272.65 220.68,266.05 222.7,261.5C224.72,256.95 225.97,253.28 227,250.2C228.03,247.12 228.58,244.2 228.9,243M316.9,321.6C315.93,321.6 316.67,321.83 314.03,321.5C311.4,321.17 305.25,320.58 301.08,319.6C296.91,318.62 292.1,316.7 289.02,315.6C285.94,314.5 285.21,314.13 282.59,313C279.97,311.87 276.69,310.82 273.3,308.8C269.9,306.78 265.76,303.93 262.22,300.9C258.68,297.87 255.28,294.5 252.04,290.6C248.79,286.7 245.58,282.35 242.74,277.5C239.91,272.65 237.02,266.05 235.03,261.5C233.04,256.95 231.8,253.28 230.78,250.2C229.76,247.12 229.21,244.2 228.9,243M316.9,321.6C317.87,321.6 317.14,321.83 319.87,321.5C322.6,321.17 328.97,320.58 333.3,319.6C337.62,318.62 342.6,316.7 345.8,315.6C348.99,314.5 349.74,314.13 352.46,313C355.17,311.87 358.57,310.82 362.09,308.8C365.61,306.78 369.9,303.93 373.57,300.9C377.24,297.87 380.76,294.5 384.12,290.6C387.49,286.7 390.82,282.35 393.75,277.5C396.69,272.65 399.68,266.05 401.75,261.5C403.81,256.95 405.09,253.28 406.15,250.2C407.21,247.12 407.78,244.2 408.1,243M498.3,321.6C497.33,321.6 498.06,321.83 495.36,321.5C492.66,321.17 486.36,320.58 482.08,319.6C477.81,318.62 472.88,316.7 469.72,315.6C466.56,314.5 465.82,314.13 463.13,313C460.45,311.87 457.09,310.82 453.61,308.8C450.13,306.78 445.89,303.93 442.25,300.9C438.62,297.87 435.14,294.5 431.82,290.6C428.49,286.7 425.19,282.35 422.29,277.5C419.38,272.65 416.43,266.05 414.38,261.5C412.34,256.95 411.07,253.28 410.03,250.2C408.98,247.12 408.42,244.2 408.1,243M498.3,321.6C499.27,321.6 498.53,321.83 501.15,321.5C503.78,321.17 509.9,320.58 514.05,319.6C518.2,318.62 522.99,316.7 526.06,315.6C529.12,314.5 529.85,314.13 532.45,313C535.06,311.87 538.33,310.82 541.71,308.8C545.09,306.78 549.2,303.93 552.73,300.9C556.26,297.87 559.64,294.5 562.87,290.6C566.1,286.7 569.3,282.35 572.12,277.5C574.94,272.65 577.81,266.05 579.8,261.5C581.78,256.95 583.01,253.28 584.03,250.2C585.05,247.12 585.59,244.2 585.9,243M675,321.6C674.04,321.6 674.77,321.83 672.1,321.5C669.43,321.17 663.2,320.58 658.98,319.6C654.76,318.62 649.89,316.7 646.77,315.6C643.65,314.5 642.91,314.13 640.26,313C637.61,311.87 634.29,310.82 630.85,308.8C627.41,306.78 623.23,303.93 619.64,300.9C616.05,297.87 612.61,294.5 609.33,290.6C606.04,286.7 602.79,282.35 599.92,277.5C597.05,272.65 594.13,266.05 592.11,261.5C590.09,256.95 588.84,253.28 587.8,250.2C586.77,247.12 586.22,244.2 585.9,243M675,321.6C675.96,321.6 675.23,321.83 677.85,321.5C680.47,321.17 686.58,320.58 690.73,319.6C694.88,318.62 699.66,316.7 702.72,315.6C705.79,314.5 706.51,314.13 709.12,313C711.72,311.87 714.98,310.82 718.36,308.8C721.73,306.78 725.85,303.93 729.37,300.9C732.89,297.87 736.27,294.5 739.49,290.6C742.72,286.7 745.92,282.35 748.74,277.5C751.55,272.65 754.42,266.05 756.4,261.5C758.39,256.95 759.62,253.28 760.63,250.2C761.65,247.12 762.19,244.2 762.5,243M51.7,321.5C54.62,321.37 63.99,321.22 69.24,320.7C74.49,320.18 79.18,319.2 83.21,318.4C87.24,317.6 89.71,316.98 93.42,315.9C97.14,314.82 102.42,313.15 105.51,311.9C108.6,310.65 109.03,310.28 111.95,308.4C114.88,306.52 119.65,303.65 123.05,300.6C126.46,297.55 130.01,293.2 132.37,290.1C134.73,287 135.97,283.85 137.22,282C138.48,280.15 139.45,279.5 139.9,279M762.5,321.5C759.6,321.37 750.31,321.22 745.1,320.7C739.89,320.18 735.23,319.2 731.24,318.4C727.24,317.6 724.8,316.98 721.11,315.9C717.42,314.82 712.18,313.15 709.12,311.9C706.05,310.65 705.62,310.28 702.72,308.4C699.82,306.52 695.09,303.65 691.71,300.6C688.34,297.55 684.82,293.2 682.47,290.1C680.13,287 678.9,283.85 677.65,282C676.41,280.15 675.44,279.5 675,279" stroke-width="6.6" stroke-dasharray="7 7.45" stroke-dashoffset="0"/>
<path d="M53.5,124.6C53.25,125.5 52.3,128.02 52,130C51.7,131.98 51.75,135.42 51.7,136.5M51.7,231.5C51.7,232.42 51.7,235.08 51.7,237C51.7,238.92 51.7,242 51.7,243M760.7,124.6C760.95,125.5 761.9,128.02 762.2,130C762.5,131.98 762.45,135.42 762.5,136.5M762.5,231.5C762.5,232.42 762.5,235.08 762.5,237C762.5,238.92 762.5,242 762.5,243" stroke-width="6.6" stroke-dasharray="7 7.45" stroke-dashoffset="-2"/>
</g>
<g fill="#e81a25">
<rect x="133" y="117" width="13.8" height="5.8" stroke="#fff" stroke-width="1.6" paint-order="stroke"/>
<rect x="133" y="270.8" width="13.8" height="5.8" stroke="#fff" stroke-width="1.6" paint-order="stroke"/>
<rect x="310" y="117" width="13.8" height="5.8" stroke="#fff" stroke-width="1.6" paint-order="stroke"/>
<rect x="310" y="270.8" width="13.8" height="5.8" stroke="#fff" stroke-width="1.6" paint-order="stroke"/>
<rect x="491.4" y="117" width="13.8" height="5.8" stroke="#fff" stroke-width="1.6" paint-order="stroke"/>
<rect x="491.4" y="270.8" width="13.8" height="5.8" stroke="#fff" stroke-width="1.6" paint-order="stroke"/>
<rect x="668.1" y="117" width="13.8" height="5.8" stroke="#fff" stroke-width="1.6" paint-order="stroke"/>
<rect x="668.1" y="270.8" width="13.8" height="5.8" stroke="#fff" stroke-width="1.6" paint-order="stroke"/>
<rect x="222" y="128" width="13.8" height="5.8" stroke="#fff" stroke-width="1.6" paint-order="stroke"/>
<rect x="222" y="234.6" width="13.8" height="5.8" stroke="#fff" stroke-width="1.6" paint-order="stroke"/>
<rect x="401.2" y="128" width="13.8" height="5.8" stroke="#fff" stroke-width="1.6" paint-order="stroke"/>
<rect x="401.2" y="234.6" width="13.8" height="5.8" stroke="#fff" stroke-width="1.6" paint-order="stroke"/>
<rect x="579" y="128" width="13.8" height="5.8" stroke="#fff" stroke-width="1.6" paint-order="stroke"/>
<rect x="579" y="234.6" width="13.8" height="5.8" stroke="#fff" stroke-width="1.6" paint-order="stroke"/>
</g>
<g fill="none" stroke="#1c1c1c">
<circle cx="921.6" cy="205.5" r="114.9" stroke-width="2"/>
<circle cx="921.6" cy="205.5" r="114.9" stroke-width="8.3" stroke-dasharray="8.6 8.589" stroke-dashoffset="9.058"/>
</g>
<g transform="translate(1027.03,251.19) rotate(23.43)">
<rect x="-8" y="-5.6" width="16" height="11.2" fill="#fff"/>
<rect x="-6.9" y="-2.7" width="13.8" height="5.4" fill="#e81a25"/>
</g>
<g transform="translate(986.51,300.31) rotate(55.6)">
<rect x="-8" y="-5.6" width="16" height="11.2" fill="#fff"/>
<rect x="-6.9" y="-2.7" width="13.8" height="5.4" fill="#e81a25"/>
</g>
<g transform="translate(924.87,320.35) rotate(88.37)">
<rect x="-8" y="-5.6" width="16" height="11.2" fill="#fff"/>
<rect x="-6.9" y="-2.7" width="13.8" height="5.4" fill="#e81a25"/>
</g>
<g transform="translate(864.03,304.94) rotate(120.07)">
<rect x="-8" y="-5.6" width="16" height="11.2" fill="#fff"/>
<rect x="-6.9" y="-2.7" width="13.8" height="5.4" fill="#e81a25"/>
</g>
<g transform="translate(819.39,257.98) rotate(152.82)">
<rect x="-8" y="-5.6" width="16" height="11.2" fill="#fff"/>
<rect x="-6.9" y="-2.7" width="13.8" height="5.4" fill="#e81a25"/>
</g>
<g transform="translate(807.14,195.41) rotate(185.04)">
<rect x="-8" y="-5.6" width="16" height="11.2" fill="#fff"/>
<rect x="-6.9" y="-2.7" width="13.8" height="5.4" fill="#e81a25"/>
</g>
<g transform="translate(835.02,129.97) rotate(221.1)">
<rect x="-8" y="-5.6" width="16" height="11.2" fill="#fff"/>
<rect x="-6.9" y="-2.7" width="13.8" height="5.4" fill="#e81a25"/>
</g>
<g transform="translate(886.76,96.01) rotate(252.35)">
<rect x="-8" y="-5.6" width="16" height="11.2" fill="#fff"/>
<rect x="-6.9" y="-2.7" width="13.8" height="5.4" fill="#e81a25"/>
</g>
<g transform="translate(953.02,94.98) rotate(285.87)">
<rect x="-8" y="-5.6" width="16" height="11.2" fill="#fff"/>
<rect x="-6.9" y="-2.7" width="13.8" height="5.4" fill="#e81a25"/>
</g>
<g transform="translate(1007.3,128.96) rotate(318.23)">
<rect x="-8" y="-5.6" width="16" height="11.2" fill="#fff"/>
<rect x="-6.9" y="-2.7" width="13.8" height="5.4" fill="#e81a25"/>
</g>
<g transform="translate(1035.24,188.56) rotate(351.52)">
<rect x="-8" y="-5.6" width="16" height="11.2" fill="#fff"/>
<rect x="-6.9" y="-2.7" width="13.8" height="5.4" fill="#e81a25"/>
</g>
<defs><filter id="wm" x="-5%" y="-5%" width="110%" height="110%"><feGaussianBlur in="SourceAlpha" stdDeviation="1.1" result="b"/><feOffset in="b" dx="1.6" dy="1.8" result="o"/><feComposite in="o" in2="SourceAlpha" operator="out" result="s"/><feFlood flood-color="#909090" flood-opacity="0.6"/><feComposite in2="s" operator="in" result="sh"/><feComponentTransfer in="SourceGraphic" result="fg"><feFuncA type="linear" slope="0.32"/></feComponentTransfer><feMerge><feMergeNode in="sh"/><feMergeNode in="fg"/></feMerge></filter></defs>
<g filter="url(#wm)" font-family="Liberation Serif" font-size="252" fill="#fff">
<text transform="translate(46.5,412.5) scale(0.9,1.0)" text-anchor="middle" style="font-family:'Liberation Serif',serif">c</text>
<text transform="translate(157.5,412.5) scale(1.08,1.0)" text-anchor="middle" style="font-family:'Liberation Serif',serif">a</text>
<text transform="translate(259.5,412.5) scale(0.95,1.07)" text-anchor="middle" style="font-family:'Liberation Serif',serif">ı</text>
<text transform="translate(400.1,412.5) scale(1.07,1.06)" text-anchor="middle" style="font-family:'Liberation Serif',serif">m</text>
<text transform="translate(561,412.5) scale(1.1,1.0)" text-anchor="middle" style="font-family:'Liberation Serif',serif">a</text>
<text transform="translate(692,412.5) scale(1.06,1.06)" text-anchor="middle" style="font-family:'Liberation Serif',serif">n</text>
<text transform="translate(790.5,412.5) scale(1,1.0)" text-anchor="middle" style="font-family:'Liberation Serif',serif">.</text>
<text transform="translate(894,412.5) scale(1.03,1.0)" text-anchor="middle" style="font-family:'Liberation Serif',serif">u</text>
<text transform="translate(1015,412.5) scale(1.12,1.0)" text-anchor="middle" style="font-family:'Liberation Serif',serif">a</text>
<circle cx="257.5" cy="236" r="13"/>
</g>
<circle cx="878.7" cy="189" r="6.2" fill="none" stroke="#1c1c1c" stroke-width="1.9"/>
<line x1="870.8" y1="196.6" x2="886.8" y2="180.6" stroke="#1c1c1c" stroke-width="1.9"/>
<text x="898" y="197" font-size="23" font-style="italic" fill="#1c1c1c">2400 мм</text>
<text transform="translate(877.5,232) scale(1.05,1)" font-size="24" font-style="italic" letter-spacing="0.8" fill="#1c1c1c">11 скоб</text>
<defs><clipPath id="wc"><circle cx="285.6" cy="514.3" r="33.5"/></clipPath></defs>
<path d="M91.2,574.3 L211.2,454.3M102.4,574.3 L222.4,454.3M113.6,574.3 L233.6,454.3M124.8,574.3 L244.8,454.3M136,574.3 L256,454.3M147.2,574.3 L267.2,454.3M158.4,574.3 L278.4,454.3M169.6,574.3 L289.6,454.3M180.8,574.3 L300.8,454.3M192,574.3 L312,454.3M203.2,574.3 L323.2,454.3M214.4,574.3 L334.4,454.3M225.6,574.3 L345.6,454.3M236.8,574.3 L356.8,454.3M248,574.3 L368,454.3M259.2,574.3 L379.2,454.3M270.4,574.3 L390.4,454.3M281.6,574.3 L401.6,454.3M292.8,574.3 L412.8,454.3M304,574.3 L424,454.3M315.2,574.3 L435.2,454.3M326.4,574.3 L446.4,454.3M337.6,574.3 L457.6,454.3M348.8,574.3 L468.8,454.3M360,574.3 L480,454.3" stroke="#1c1c1c" stroke-width="1" clip-path="url(#wc)"/>
<path d="M111.8,481.5 H241.2 C250.5,481.5 255.6,488.5 255.8,499M459,481.5 H330 C320.7,481.5 315.6,488.5 315.4,499M111.8,481.5 V496.8 H240.6M459,481.5 V496.8 H330.6M240.6,496.8 L241.16,500.29 A46.6,46.6 0 1 0 330.04,500.29 L330.6,496.8" fill="none" stroke="#1c1c1c" stroke-width="2.2" stroke-linejoin="round"/>
<circle cx="285.6" cy="514.3" r="33.5" fill="none" stroke="#1c1c1c" stroke-width="2.2"/>
<line x1="85.1" y1="439.8" x2="85.1" y2="619.7" stroke="#1c1c1c" stroke-width="1.0"/>
<line x1="65.5" y1="481.5" x2="111.8" y2="481.5" stroke="#1c1c1c" stroke-width="1.0"/>
<line x1="65.5" y1="496.8" x2="111.8" y2="496.8" stroke="#1c1c1c" stroke-width="1.0"/>
<path d="M85.1,481.5 L78.1,468.5 L92.1,468.5 Z" fill="#1c1c1c"/>
<path d="M85.1,496.8 L92.1,509.8 L78.1,509.8 Z" fill="#1c1c1c"/>
<text transform="translate(77,563.5) rotate(-90)" font-size="21" font-style="italic" text-anchor="middle" fill="#1c1c1c">0,55</text>
<line x1="253.1" y1="458.01" x2="340.4" y2="611.1" stroke="#1c1c1c" stroke-width="1.0"/>
<line x1="340.4" y1="611.1" x2="445.7" y2="611.1" stroke="#1c1c1c" stroke-width="1.0"/>
<path d="M268.85,485.29 L281.2,493.17 L269.5,499.92 Z" fill="#1c1c1c"/>
<path d="M302.35,543.31 L290,535.43 L301.7,528.68 Z" fill="#1c1c1c"/>
<line x1="190.3" y1="488.41" x2="421.8" y2="551.2" stroke="#1c1c1c" stroke-width="1.0"/>
<line x1="421.8" y1="551.2" x2="520.6" y2="551.2" stroke="#1c1c1c" stroke-width="1.0"/>
<path d="M240.05,501.92 L225.67,505.27 L229.34,491.76 Z" fill="#1c1c1c"/>
<path d="M331.15,526.68 L345.53,523.33 L341.86,536.84 Z" fill="#1c1c1c"/>
<circle cx="458.5" cy="534.5" r="6" fill="none" stroke="#1c1c1c" stroke-width="1.5"/><line x1="451.3" y1="541.7" x2="465.7" y2="527.3" stroke="#1c1c1c" stroke-width="1.5"/>
<text transform="translate(469.5,541.6) scale(1.08,1)" font-size="20.5" font-style="italic" letter-spacing="0" fill="#1c1c1c">4,9</text>
<circle cx="364.5" cy="597.5" r="6" fill="none" stroke="#1c1c1c" stroke-width="1.5"/><line x1="357.3" y1="604.7" x2="371.7" y2="590.3" stroke="#1c1c1c" stroke-width="1.5"/>
<text transform="translate(375.5,604.6) scale(1.06,1)" font-size="20.5" font-style="italic" letter-spacing="0" fill="#1c1c1c">3,8</text>
<path d="M613.1,533.6 V500.5 H681.3 A10.4,10.4 0 1 0 691.6,480.9 L656.2,466.6 H778.8 L745.0,480.9 A10.4,10.4 0 1 0 755.9,500.5 H886.0 A10.4,10.4 0 1 0 896.0,480.9 L862.1,466.6 H987.9 L952.6,480.9 A10.4,10.4 0 1 0 963.5,500.5 H1028.2 V533.6 M613.1,533.6 V566.7 H681.3 A10.4,10.4 0 1 1 691.6,586.3 L656.2,600.6 H778.8 L745.0,586.3 A10.4,10.4 0 1 1 755.9,566.7 H886.0 A10.4,10.4 0 1 1 896.0,586.3 L862.1,600.6 H987.9 L952.6,586.3 A10.4,10.4 0 1 1 963.5,566.7 H1028.2 V533.6" fill="none" stroke="#1c1c1c" stroke-width="2.3" stroke-linejoin="miter"/>
<line x1="601.2" y1="533.6" x2="1037.6" y2="533.6" stroke="#1c1c1c" stroke-width="1.0"/>
<line x1="716.9" y1="453.7" x2="716.9" y2="664" stroke="#1c1c1c" stroke-width="1.0"/>
<line x1="924.4" y1="453.7" x2="924.4" y2="664" stroke="#1c1c1c" stroke-width="1.0"/>
<line x1="566.3" y1="466.6" x2="654.4" y2="466.6" stroke="#1c1c1c" stroke-width="1.0"/>
<line x1="566.3" y1="600.6" x2="654.4" y2="600.6" stroke="#1c1c1c" stroke-width="1.0"/>
<line x1="583.6" y1="466.6" x2="583.6" y2="600.6" stroke="#1c1c1c" stroke-width="1.0"/>
<path d="M583.6,466.6 L590.6,479.6 L576.6,479.6 Z" fill="#1c1c1c"/>
<path d="M583.6,600.6 L576.6,587.6 L590.6,587.6 Z" fill="#1c1c1c"/>
<text transform="translate(580.5,533.6) rotate(-90)" font-size="19.5" letter-spacing="0.6" text-anchor="middle" fill="#1c1c1c">22,5</text>
<line x1="655.7" y1="431.2" x2="655.7" y2="466.6" stroke="#1c1c1c" stroke-width="1.0"/>
<line x1="778.9" y1="431.2" x2="778.9" y2="466.6" stroke="#1c1c1c" stroke-width="1.0"/>
<line x1="862" y1="431.2" x2="862" y2="466.6" stroke="#1c1c1c" stroke-width="1.0"/>
<line x1="655.7" y1="441.5" x2="862" y2="441.5" stroke="#1c1c1c" stroke-width="1.0"/>
<path d="M655.7,441.5 L668.7,434.5 L668.7,448.5 Z" fill="#1c1c1c"/>
<path d="M778.3,441.5 L765.3,448.5 L765.3,434.5 Z" fill="#1c1c1c"/>
<path d="M779.4,441.5 L792.4,434.5 L792.4,448.5 Z" fill="#1c1c1c"/>
<path d="M862,441.5 L849,448.5 L849,434.5 Z" fill="#1c1c1c"/>
<text x="717" y="435" font-size="20" font-style="italic" text-anchor="middle" fill="#1c1c1c">21</text>
<text x="820.5" y="435" font-size="20" font-style="italic" text-anchor="middle" fill="#1c1c1c">14</text>
<line x1="716.9" y1="644.9" x2="924.4" y2="644.9" stroke="#1c1c1c" stroke-width="1.0"/>
<path d="M716.9,644.9 L729.9,637.9 L729.9,651.9 Z" fill="#1c1c1c"/>
<path d="M924.4,644.9 L911.4,651.9 L911.4,637.9 Z" fill="#1c1c1c"/>
<text x="821.4" y="638" font-size="20" font-style="italic" text-anchor="middle" fill="#1c1c1c">35</text>
</svg></body></html>
